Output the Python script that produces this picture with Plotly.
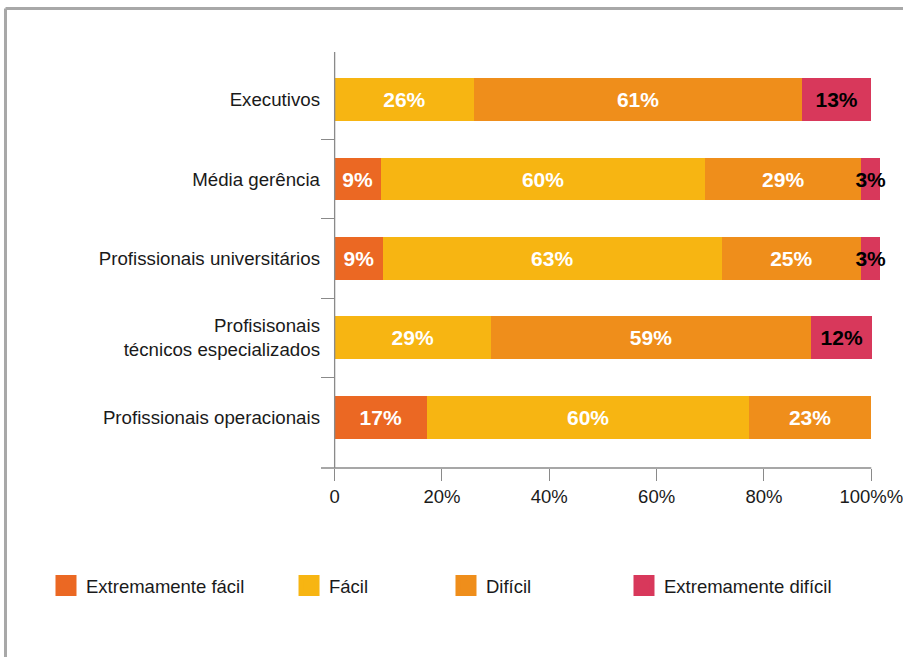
import plotly.graph_objects as go

# ---- data ----
categories = [
    "Executivos",
    "Média gerência",
    "Profissionais universitários",
    "Profisisonais<br>técnicos especializados",
    "Profissionais operacionais",
]
series_names = ["Extremamente fácil", "Fácil", "Difícil", "Extremamente difícil"]
extremamente_facil = [None, 8.6, 9.0, None, 17.2]
facil = [26.0, 60.5, 63.1, 29.1, 60.1]
dificil = [61.1, 29.0, 26.0, 59.7, 22.6]
extremamente_dificil = [12.9, 3.6, 3.6, 11.4, None]

labels_ext_facil = ["", "9%", "9%", "", "17%"]
labels_facil = ["26%", "60%", "63%", "29%", "60%"]
labels_dificil = ["61%", "29%", "25%", "59%", "23%"]
labels_ext_dificil = ["13%", "3%", "3%", "12%", ""]

x_tickvals = [0, 20, 40, 60, 80, 100]
x_ticktext = ["0", "20%", "40%", "60%", "80%", "100%%"]

colors = ["#EB6823", "#F7B512", "#EF8E1B", "#D8385B"]
text_colors = ["white", "white", "white", "black"]

values = [extremamente_facil, facil, dificil, extremamente_dificil]
texts = [labels_ext_facil, labels_facil, labels_dificil, labels_ext_dificil]

FONT = "Liberation Sans, Arial, sans-serif"
AXIS_GRAY = "#8a8a8a"
X_MIN = -2.54
Y_RANGE = [4.64, -0.6]

fig = go.Figure()
for name, vals, txt, col, tcol in zip(series_names, values, texts, colors, text_colors):
    fig.add_trace(go.Bar(
        name=name, y=categories, x=vals, orientation="h",
        marker=dict(color=col, line=dict(width=0)),
        text=txt, textposition="inside", insidetextanchor="middle", textangle=0,
        constraintext="none", cliponaxis=False,
        textfont=dict(family=FONT, size=21, color=tcol, weight="bold"),
        showlegend=False, hoverinfo="skip",
    ))

# legend entries (one legend per item, positioned like the reference)
legend_ids = ["legend", "legend2", "legend3", "legend4"]
legend_x = [-0.4902, -0.0570, 0.2228, 0.5401]
for name, col, lid in zip(series_names, colors, legend_ids):
    fig.add_trace(go.Scatter(
        x=[None], y=[None], yaxis="y2", mode="markers", name=name,
        marker=dict(symbol="square", size=16, color=col, line=dict(color=col, width=5)),
        legend=lid, showlegend=True, hoverinfo="skip",
    ))

legend_common = dict(orientation="h", yanchor="middle", y=-0.2837, xanchor="left",
                     font=dict(family=FONT, size=18.5, color="#1a1a1a"),
                     bgcolor="rgba(0,0,0,0)", borderwidth=0, itemsizing="trace")
layout_legends = {}
for lid, lx in zip(legend_ids, legend_x):
    layout_legends[lid] = dict(legend_common, x=lx)

fig.update_layout(
    width=903, height=657,
    margin=dict(l=321, r=21, t=52, b=189, autoexpand=False),
    paper_bgcolor="white", plot_bgcolor="white",
    barmode="stack", bargap=0.46,
    font=dict(family=FONT, size=18, color="#1a1a1a"),
    uniformtext=dict(minsize=21, mode="show"),
    xaxis=dict(range=[X_MIN, 102], tickvals=x_tickvals, ticktext=x_ticktext,
               ticks="outside", ticklen=12, tickcolor=AXIS_GRAY, tickwidth=1.3,
               showgrid=False, zeroline=False, showline=False, automargin=False,
               ticklabeloverflow="allow",
               tickfont=dict(family=FONT, size=18.5, color="#1a1a1a")),
    yaxis=dict(type="category", categoryorder="array", categoryarray=categories,
               range=Y_RANGE, ticks="", showgrid=False, zeroline=False, showline=False,
               automargin=False,
               tickfont=dict(family=FONT, size=18.7, color="#1a1a1a")),
    yaxis2=dict(overlaying="y", anchor="x", side="left", range=Y_RANGE,
                tickvals=[-0.6, 0.5, 1.5, 2.5, 3.5], ticks="inside", ticklen=13,
                tickcolor=AXIS_GRAY, tickwidth=1.3, showticklabels=False,
                showgrid=False, zeroline=False, showline=False, automargin=False),
    **layout_legends,
)

# axis lines
fig.add_shape(type="line", xref="x", yref="paper", x0=X_MIN, x1=100, y0=0, y1=0,
              line=dict(color=AXIS_GRAY, width=1.3), layer="above")
fig.add_shape(type="line", xref="x", yref="paper", x0=0, x1=0, y0=0, y1=1,
              line=dict(color=AXIS_GRAY, width=1.3), layer="above")

# outer frame (top and left edges)
fig.add_shape(type="line", xref="paper", yref="paper", x0=-0.5624, x1=1.05, y0=1.1046, y1=1.1046,
              line=dict(color="#a8a8a8", width=3))
fig.add_shape(type="line", xref="paper", yref="paper", x0=-0.5624, x1=-0.5624, y0=1.1046, y1=-0.47,
              line=dict(color="#a8a8a8", width=3))

fig.write_html("out.html")
